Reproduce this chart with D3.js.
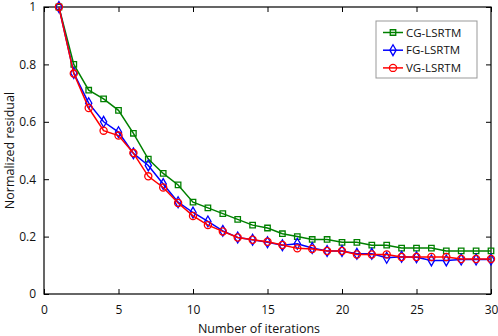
<html>
<head>
<style>
  body { margin: 0; background: #fff; }
  svg { display: block; font-family: "Open Sans", "Liberation Sans", sans-serif; }
</style>
</head>
<body>
<script src="https://d3js.org/d3.v7.min.js"></script>
<script>
var width = 498, height = 336;
var margin = { top: 7, right: 7, bottom: 42, left: 44 };

// data
let iterations = d3.range(1, 31);
let cgValues = [1.00, 0.80, 0.71, 0.68, 0.64, 0.56, 0.47, 0.42, 0.38, 0.32,
                0.30, 0.28, 0.26, 0.24, 0.23, 0.21, 0.20, 0.19, 0.19, 0.18,
                0.18, 0.17, 0.17, 0.16, 0.16, 0.16, 0.15, 0.15, 0.15, 0.15];
let fgValues = [1.00, 0.77, 0.665, 0.60, 0.564, 0.49, 0.448, 0.383, 0.32, 0.284,
                0.253, 0.22, 0.197, 0.189, 0.18, 0.17, 0.175, 0.16, 0.15, 0.15,
                0.14, 0.14, 0.126, 0.13, 0.128, 0.117, 0.117, 0.12, 0.12, 0.12];
let vgValues = [1.00, 0.768, 0.648, 0.569, 0.552, 0.491, 0.41, 0.371, 0.317, 0.272,
                0.24, 0.218, 0.197, 0.189, 0.182, 0.171, 0.159, 0.157, 0.15, 0.15,
                0.138, 0.138, 0.138, 0.129, 0.129, 0.129, 0.129, 0.122, 0.122, 0.122];
let seriesNames = ["CG-LSRTM", "FG-LSRTM", "VG-LSRTM"];
let xTicks = [0, 5, 10, 15, 20, 25, 30];
let yTicks = [0, 0.2, 0.4, 0.6, 0.8, 1];

let series = [
  { name: seriesNames[0], values: cgValues, color: "#008000", marker: "square" },
  { name: seriesNames[1], values: fgValues, color: "#0000ff", marker: "diamond" },
  { name: seriesNames[2], values: vgValues, color: "#ff0000", marker: "circle" }
];

var svg = d3.select("body").append("svg")
  .attr("width", width)
  .attr("height", height);

var iw = width - margin.left - margin.right;
var ih = height - margin.top - margin.bottom;

var x = d3.scaleLinear().domain([0, 30]).range([0, iw]);
var y = d3.scaleLinear().domain([0, 1]).range([ih, 0]);

let g = svg.append("g").attr("transform", `translate(${margin.left},${margin.top})`);

function styleAxis(sel, showLabels) {
  sel.selectAll(".domain").remove();
  sel.selectAll(".tick line").attr("stroke", "#000").attr("stroke-width", 1);
  sel.selectAll(".tick text")
    .attr("fill", "#111")
    .style("font-size", "12px")
    .style("font-family", "'Open Sans', sans-serif");
  if (!showLabels) sel.selectAll(".tick text").remove();
}

// bottom / left axes with inward ticks
g.append("g").attr("transform", `translate(0,${ih})`)
  .call(d3.axisBottom(x).tickValues(xTicks).tickSize(-5).tickPadding(11).tickFormat(d3.format("d")))
  .call(s => styleAxis(s, true));
g.append("g")
  .call(d3.axisLeft(y).tickValues(yTicks).tickSize(-5).tickPadding(8).tickFormat(d => d === 0 || d === 1 ? d3.format("d")(d) : d3.format(".1f")(d)))
  .call(s => styleAxis(s, true));
// top / right mirrored ticks
g.append("g")
  .call(d3.axisTop(x).tickValues(xTicks).tickSize(-5))
  .call(s => styleAxis(s, false));
g.append("g").attr("transform", `translate(${iw},0)`)
  .call(d3.axisRight(y).tickValues(yTicks).tickSize(-5))
  .call(s => styleAxis(s, false));

// frame
g.append("rect")
  .attr("x", 0).attr("y", 0).attr("width", iw).attr("height", ih)
  .attr("fill", "none").attr("stroke", "#000").attr("stroke-width", 1.2);

var symbolFor = {
  square: d3.symbol().type(d3.symbolSquare).size(30),
  diamond: d3.symbol().type(d3.symbolDiamond).size(34),
  circle: d3.symbol().type(d3.symbolCircle).size(40)
};

var line = d3.line()
  .x((d, i) => x(iterations[i]))
  .y(d => y(d));

series.forEach(s => {
  g.append("path")
    .attr("d", line(s.values))
    .attr("fill", "none")
    .attr("stroke", s.color)
    .attr("stroke-width", 1.5);
  g.selectAll(".m-" + s.marker)
    .data(s.values)
    .enter()
    .append("path")
    .attr("class", "m-" + s.marker)
    .attr("transform", (d, i) => `translate(${x(iterations[i])},${y(d)})`)
    .attr("d", symbolFor[s.marker]())
    .attr("fill", "none")
    .attr("stroke", s.color)
    .attr("stroke-width", 1.3);
});

// legend
let lg = svg.append("g").attr("transform", "translate(376,21)");
lg.append("rect")
  .attr("width", 101).attr("height", 57)
  .attr("fill", "#fff").attr("stroke", "#999").attr("stroke-width", 1);
series.forEach((s, i) => {
  let ly = 11.5 + i * 17.7;
  lg.append("line")
    .attr("x1", 7).attr("x2", 27).attr("y1", ly).attr("y2", ly)
    .attr("stroke", s.color).attr("stroke-width", 1.5);
  lg.append("path")
    .attr("transform", `translate(17,${ly})`)
    .attr("d", symbolFor[s.marker]())
    .attr("fill", "none").attr("stroke", s.color).attr("stroke-width", 1.3);
  lg.append("text")
    .attr("x", 30).attr("y", ly).attr("dy", "0.35em")
    .style("font-size", "11.5px")
    .attr("fill", "#111")
    .text(s.name);
});

// axis titles
svg.append("text")
  .attr("x", 259).attr("y", 333)
  .attr("text-anchor", "middle")
  .style("font-size", "12.5px")
  .attr("fill", "#111")
  .text("Number of iterations");
svg.append("text")
  .attr("transform", `translate(14,${margin.top + ih / 2}) rotate(-90)`)
  .attr("text-anchor", "middle")
  .style("font-size", "12.5px")
  .attr("fill", "#111")
  .text("Normalized residual");
</script>
</body>
</html>
